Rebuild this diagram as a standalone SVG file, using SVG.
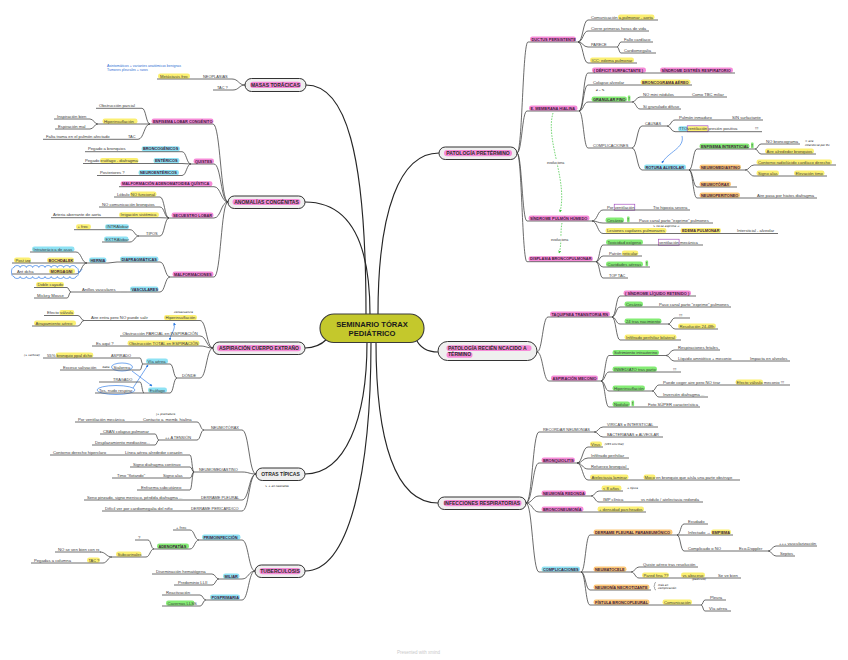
<svg xmlns="http://www.w3.org/2000/svg" width="848" height="660" viewBox="0 0 848 660">
<defs>
<style>
text{font-family:"Liberation Sans",Arial,sans-serif}
.t{font-size:4.2px;fill:#3a3a3a}
.tu{font-size:3.9px;fill:#3a3a3a}
.k{font-size:3.9px;font-weight:bold;fill:#3b1838}
.n{font-size:5px;font-weight:bold;fill:#2a2a2a}
.s{font-family:"DejaVu Sans",sans-serif;font-size:2.8px;font-style:italic;fill:#111}
.bl{font-size:3.5px;fill:#2f6fd4}
.ev{font-size:3.6px;fill:#333}
.u{stroke:#4a4a4a;stroke-width:0.8;fill:none}
.c{stroke:#3a3a3a;stroke-width:0.75;fill:none}
.m{stroke:#262626;stroke-width:1.15;fill:none}
.y{fill:#fbef72}.cy{fill:#8ee2f4}.g{fill:#84ec74}.p{fill:#f68bd8}.o{fill:#fcc778}
.box{fill:#efefef;stroke:#333;stroke-width:1}
.pb{fill:none;stroke:#9a3db8;stroke-width:0.6}
.be{fill:none;stroke:#3b82e8;stroke-width:0.7}
.gd{fill:none;stroke:#3cc43c;stroke-width:0.7;stroke-dasharray:1.6 1.2}
</style>
<marker id="ab" viewBox="0 0 6 6" refX="5" refY="3" markerWidth="4" markerHeight="4" orient="auto-start-reverse"><path d="M0,0 L6,3 L0,6 z" fill="#2e7be0"/></marker>
<marker id="ag" viewBox="0 0 6 6" refX="5" refY="3" markerWidth="4" markerHeight="4" orient="auto"><path d="M0,0 L6,3 L0,6 z" fill="#3cc43c"/></marker>
</defs>
<rect width="848" height="660" fill="#ffffff"/>

<g id="connectors">
<g class="m">
<path d="M306,85 C345,85 366,150 366,314"/>
<path d="M305,202 C348,202 370,240 370,314"/>
<path d="M305,348 C316,348 322,344 327,339"/>
<path d="M305,474 C345,474 367,420 367,342"/>
<path d="M305,571 C350,571 371,470 371,342"/>
<path d="M439,153 C400,153 378,210 378,314"/>
<path d="M438,352 C428,352 420,348 416,339"/>
<path d="M438,503 C395,503 376,440 376,342"/>
</g>
<g class="c">
<path d="M245,85 C238.5,85 238.5,79 232,79"/><path d="M245,85 C239,85 239,90 233,90"/>
<path d="M228,202 C220.5,202 220.5,124 213,124"/><path d="M228,202 C221,202 221,164 214,164"/><path d="M228,202 C221,202 221,186.7 214,186.7"/><path d="M228,202 C221,202 221,218 214,218"/><path d="M228,202 C221,202 221,277 214,277"/>
<path d="M150,124 C146,124 146,108.3 142,108.3"/><path d="M150,124 L141,124"/><path d="M150,124 C144,124 144,139.3 138,139.3"/>
<path d="M98,124 C94,124 94,119 90,119"/><path d="M98,124 C94,124 94,129 90,129"/>
<path d="M191,164 C186.5,164 186.5,151.7 182,151.7"/><path d="M191,164 L182,163.5"/><path d="M191,164 C186.5,164 186.5,175.5 182,175.5"/>
<path d="M169,218 C164.5,218 164.5,197 160,197"/><path d="M169,218 C164.5,218 164.5,207 160,207"/><path d="M169,218 L160,217.7"/><path d="M169,218 C164.5,218 164.5,236 160,236"/>
<path d="M139,236 C134.5,236 134.5,229.7 130,229.7"/><path d="M139,236 C134.5,236 134.5,242 130,242"/>
<path d="M170,277 C165,277 165,262 160,262"/><path d="M170,277 C165,277 165,292 160,292"/>
<path d="M117,262 L108,263"/>
<path d="M87,263 C81.5,263 81.5,252 76,252"/><path d="M87,263 L76,263"/><path d="M87,263 C81.5,263 81.5,274 76,274"/>
<path d="M127,292 L121,292"/>
<path d="M71,292 C69,292 69,287.5 67,287.5"/><path d="M71,292 C69,292 69,298 67,298"/>
<path d="M213,348 C206.5,348 206.5,320.5 200,320.5"/><path d="M213,348 C206.5,348 206.5,336 200,336"/><path d="M213,348 C206.5,348 206.5,346 200,346"/><path d="M213,348 C206.5,348 206.5,378 200,378"/>
<path d="M84,320.5 C81,320.5 81,315.5 78,315.5"/><path d="M84,320.5 C81,320.5 81,326 78,326"/>
<path d="M177,378 C173.5,378 173.5,364 170,364"/><path d="M177,378 C173.5,378 173.5,393 170,393"/>
<path d="M143,364 C141.5,364 141.5,358 140,358"/><path d="M143,364 C141.5,364 141.5,370 140,370"/>
<path d="M144,393 C142,393 142,382 140,382"/><path d="M144,393 L140,393"/>
<path d="M256,474 C249,474 249,430 242,430"/><path d="M256,474 C249,474 249,472 242,472"/><path d="M256,474 C249,474 249,500 242,500"/><path d="M256,474 C249,474 249,511 242,511"/>
<path d="M204,430 C200.5,430 200.5,422 197,422"/><path d="M204,430 C200.5,430 200.5,440 197,440"/>
<path d="M159,440 C157,440 157,434 155,434"/><path d="M159,440 C157,440 157,445 155,445"/>
<path d="M194,472 C192,472 192,455 190,455"/><path d="M194,472 C192,472 192,467 190,467"/><path d="M194,472 C192,472 192,478 190,478"/><path d="M194,472 C192,472 192,490 190,490"/>
<path d="M255,571 C248.5,571 248.5,540 242,540"/><path d="M255,571 C248.5,571 248.5,579 242,579"/><path d="M255,571 C248.5,571 248.5,600 242,600"/>
<path d="M199,540 C194.5,540 194.5,530 190,530"/><path d="M199,540 C194.5,540 194.5,549 190,549"/>
<path d="M154,549 C151,549 151,540 148,540"/><path d="M154,549 C150,549 150,557 146,557"/>
<path d="M112,557 C106,557 106,552 100,552"/><path d="M112,557 C107.5,557 107.5,563 103,563"/>
<path d="M219,579 C215.5,579 215.5,574 212,574"/><path d="M219,579 C215.5,579 215.5,585 212,585"/>
<path d="M206,600 C203,600 203,595 200,595"/><path d="M206,600 C203,600 203,606 200,606"/>
<path d="M517,153 C522.5,153 522.5,42 528,42"/><path d="M517,153 C522,153 522,111 527,111"/><path d="M517,153 C522,153 522,221 527,221"/><path d="M517,153 C522,153 522,261.7 527,261.7"/>
<path d="M578,42 C583,42 583,20 588,20"/><path d="M578,42 C583,42 583,31 588,31"/><path d="M578,42 C583,42 583,47 588,47"/><path d="M578,42 C583,42 583,63 588,63"/>
<path d="M617,47 C619,47 619,42 621,42"/><path d="M617,47 C619,47 619,53 621,53"/>
<path d="M579,111 C583.5,111 583.5,73 588,73"/><path d="M579,111 C583.5,111 583.5,85 588,85"/><path d="M579,111 C583.5,111 583.5,102 588,102"/><path d="M579,111 C583.5,111 583.5,148 588,148"/>
<path d="M632,102 C636,102 636,97 640,97"/><path d="M632,102 C636,102 636,109 640,109"/>
<path d="M632,148 C637,148 637,126 642,126"/><path d="M632,148 C637,148 637,170 642,170"/>
<path d="M667,126 C671,126 671,120 675,120"/><path d="M667,126 C671,126 671,131.7 675,131.7"/>
<path d="M689,170 C693,170 693,149 697,149"/><path d="M689,170 L697,170"/><path d="M689,170 C693,170 693,187 697,187"/><path d="M689,170 C693,170 693,198 697,198"/>
<path d="M755,149 C758,149 758,144 761,144"/><path d="M755,149 C758,149 758,154 761,154"/>
<path d="M745,170 C749.5,170 749.5,165 754,165"/><path d="M745,170 C749.5,170 749.5,176 754,176"/>
<path d="M592,221 C597.5,221 597.5,210 603,210"/><path d="M592,221 C597.5,221 597.5,223 603,223"/><path d="M592,221 C597.5,221 597.5,233.5 603,233.5"/>
<path d="M596,261.7 C599.5,261.7 599.5,245 603,245"/><path d="M596,261.7 C599.5,261.7 599.5,256 603,256"/><path d="M596,261.7 C599.5,261.7 599.5,267 603,267"/><path d="M596,261.7 C599.5,261.7 599.5,278 603,278"/>
<path d="M537,352 C542.5,352 542.5,317 548,317"/><path d="M537,352 C543,352 543,381 549,381"/>
<path d="M612,317 C616,317 616,296 620,296"/><path d="M612,317 C616,317 616,307 620,307"/><path d="M612,317 C616,317 616,324 620,324"/><path d="M612,317 C616,317 616,340 620,340"/>
<path d="M668,324 C671.5,324 671.5,318 675,318"/><path d="M668,324 C671.5,324 671.5,329 675,329"/>
<path d="M601,381 C605,381 605,355.5 609,355.5"/><path d="M601,381 C605,381 605,372 609,372"/><path d="M601,381 C605,381 605,391 609,391"/><path d="M601,381 C605,381 605,407 609,407"/>
<path d="M666,355.5 C670,355.5 670,350 674,350"/><path d="M666,355.5 C670,355.5 670,361 674,361"/>
<path d="M652,391 C655.5,391 655.5,385 659,385"/><path d="M652,391 C655.5,391 655.5,397 659,397"/>
<path d="M526,503 C532.5,503 532.5,432 539,432"/><path d="M526,503 C532.5,503 532.5,463 539,463"/><path d="M526,503 C532.5,503 532.5,496 539,496"/><path d="M526,503 C532.5,503 532.5,512 539,512"/><path d="M526,503 C532.5,503 532.5,572 539,572"/>
<path d="M594,432 C598.5,432 598.5,427 603,427"/><path d="M594,432 C598.5,432 598.5,437 603,437"/>
<path d="M577,463 C582.5,463 582.5,447 588,447"/><path d="M577,463 C582.5,463 582.5,458 588,458"/><path d="M577,463 C582.5,463 582.5,469 588,469"/><path d="M577,463 C582.5,463 582.5,480 588,480"/>
<path d="M591,496 C595,496 595,491 599,491"/><path d="M591,496 C595,496 595,502 599,502"/>
<path d="M581,572 C585.5,572 585.5,535 590,535"/><path d="M581,572 L590,572"/><path d="M581,572 C585.5,572 585.5,590 590,590"/><path d="M581,572 C585.5,572 585.5,605 590,605"/>
<path d="M677,535 C680.5,535 680.5,524 684,524"/><path d="M677,535 L684,535"/><path d="M677,535 C680.5,535 680.5,551 684,551"/>
<path d="M768,551 C772,551 772,546 776,546"/><path d="M768,551 C772,551 772,556 776,556"/>
<path d="M631,572 C635,572 635,567 639,567"/><path d="M631,572 C635,572 635,578 639,578"/>
<path d="M701,605 C703,605 703,600 705,600"/><path d="M701,605 C703,605 703,611 705,611"/>
</g>
<g id="annot-links">
<path class="be" d="M174,323 C176,330 170,334 170,340" marker-start="url(#ab)" marker-end="url(#ab)"/>
<path class="be" d="M132,371 L152,386" marker-end="url(#ab)"/>
<path class="be" d="M133,388 L148,365" marker-end="url(#ab)"/>
<path class="be" d="M682,136 C685,148 668,152 662,163" marker-end="url(#ab)"/>
<path class="gd" d="M553,113 C545,140 568,180 560,212" marker-end="url(#ag)"/>
<path class="gd" d="M562,223 C560,232 562,245 559,253" marker-end="url(#ag)"/>
</g>
</g>

<g id="center"><rect x="320" y="314" width="104" height="28.5" rx="14" fill="#c4c82c" stroke="#3a3a3a" stroke-width="1.1"/><text x="372" y="326.8" text-anchor="middle" font-size="7.6" font-weight="bold" fill="#1a1a1a">SEMINARIO TÓRAX</text><text x="372" y="335.8" text-anchor="middle" font-size="7.6" font-weight="bold" fill="#1a1a1a">PEDIÁTRICO</text></g>

<!-- MASAS -->
<g id="n-masas"><rect class="box" x="245" y="78.5" width="61" height="13" rx="6.5"/><rect class="p" x="250" y="81.7" width="51" height="6.3" rx="3"/><text class="n" x="275.5" y="86.9" text-anchor="middle">MASAS TORÁCICAS</text></g>
<g id="n-notas"><text class="bl" x="107" y="66.5">Asintomáticos + variantes anatómicas benignas</text><text class="bl" x="107" y="70.5">Tumores pleurales + raros</text></g>
<g id="n-neo"><rect class="y" x="158" y="73.6" width="32" height="5.2" rx="2.4"/><text class="t" x="160" y="77.5">Metástasis frec</text><text class="tu" x="203" y="77.5">NEOPLASIAS</text><path class="u" d="M157,79 H232"/></g>
<g id="n-tac1"><text class="tu" x="217" y="88.5">TAC ?</text><path class="u" d="M213,90 H233"/></g>

<!-- ANOMALIAS -->
<g id="n-anom"><rect class="box" x="228" y="196" width="77" height="12.5" rx="6.25"/><rect class="p" x="232.5" y="198.9" width="68" height="6.2" rx="3"/><text class="n" x="266.5" y="204.1" text-anchor="middle">ANOMALÍAS CONGÉNITAS</text></g>
<g id="n-enf"><rect class="p" x="151.5" y="118.6" width="62" height="5.2" rx="2.4"/><text class="k" x="153" y="122.5">ENFISEMA LOBAR CONGÉNITO</text><path class="u" d="M150,124 H213"/></g>
<g id="n-obp"><text class="t" x="99" y="106.8">Obstrucción parcial</text><path class="u" d="M96,108.3 H142"/></g>
<g id="n-hip1"><rect class="y" x="102.5" y="118.6" width="35" height="5.2" rx="2.4"/><text class="t" x="104" y="122.5">Hiperinsuflación</text><path class="u" d="M98,124 H141"/></g>
<g id="n-insp"><text class="t" x="57" y="117.5">Inspiración bien</text><path class="u" d="M54,119 H90"/></g>
<g id="n-esp"><text class="t" x="58" y="127.5">Espiración mal</text><path class="u" d="M55,129 H90"/></g>
<g id="n-falta"><text class="t" x="46" y="137.8">Falta trama en el pulmón afectado</text><text class="tu" x="128" y="137.8">TAC</text><path class="u" d="M43,139.3 H138"/></g>
<g id="n-quistes"><rect class="p" x="193.5" y="158.6" width="20.5" height="5.2" rx="2.4"/><text class="k" x="195" y="162.5">QUISTES</text><path class="u" d="M191,164 H214"/></g>
<g id="n-bronc"><text class="t" x="88" y="150.2">Pegado a bronquios</text><rect class="cy" x="141.5" y="146.3" width="38.5" height="5.2" rx="2.4"/><text class="k" x="143" y="150.2">BRONCOGÉNICOS</text><path class="u" d="M85,151.7 H182"/></g>
<g id="n-enter"><rect class="y" x="100" y="158.1" width="38.5" height="5.2" rx="2.4"/><text class="t" x="85" y="162">Pegado <tspan>esófago - diafragma</tspan></text><rect class="cy" x="153.5" y="158.1" width="26" height="5.2" rx="2.4"/><text class="k" x="155" y="162">ENTÉRICOS</text><path class="u" d="M83,163.5 H182"/></g>
<g id="n-neuroent"><text class="t" x="100" y="174">Posteriores ?</text><rect class="cy" x="138.5" y="170.1" width="40.5" height="5.2" rx="2.4"/><text class="k" x="140" y="174">NEUROENTÉRICOS</text><path class="u" d="M97,175.5 H182"/></g>
<g id="n-maq"><rect class="p" x="120.5" y="181.3" width="92" height="5.2" rx="2.4"/><text class="k" x="122" y="185.2">MALFORMACIÓN ADENOMATOIDEA QUÍSTICA</text><path class="u" d="M119,186.7 H214"/></g>
<g id="n-secu"><rect class="p" x="171.5" y="212.6" width="42" height="5.2" rx="2.4"/><text class="k" x="173" y="216.5">SECUESTRO LOBAR</text><path class="u" d="M169,218 H214"/></g>
<g id="n-lob"><rect class="y" x="130" y="191.6" width="26.5" height="5.2" rx="2.4"/><text class="t" x="117" y="195.5">Lóbulo <tspan>NO funcional</tspan></text><path class="u" d="M114,197 H160"/></g>
<g id="n-nocom"><text class="t" x="102" y="205.5">NO comunicación bronquios</text><path class="u" d="M99,207 H160"/></g>
<g id="n-art"><text class="t" x="53" y="216.2">Arteria aberrante de aorta</text><rect class="y" x="119" y="212.3" width="40" height="5.2" rx="2.4"/><text class="t" x="120.5" y="216.2">Irrigación sistémica</text><path class="u" d="M51,217.7 H160"/></g>
<g id="n-tipos"><text class="tu" x="146" y="234.5">TIPOS</text><path class="u" d="M139,236 H160"/></g>
<g id="n-intra"><rect class="y" x="76" y="224.3" width="15" height="5.2" rx="2.4"/><text class="t" x="77.5" y="228.2">+ frec</text><rect class="cy" x="105" y="224.3" width="24" height="5.2" rx="2.4"/><text class="t" x="106.5" y="228.2">INTRAlobar</text><path class="u" d="M74,229.7 H130"/></g>
<g id="n-extra"><rect class="cy" x="104" y="236.6" width="24.5" height="5.2" rx="2.4"/><text class="t" x="105.5" y="240.5">EXTRAlobar</text><path class="u" d="M102,242 H130"/></g>
<g id="n-malf"><rect class="p" x="172.5" y="271.6" width="41" height="5.2" rx="2.4"/><text class="k" x="174" y="275.5">MALFORMACIONES</text><path class="u" d="M170,277 H214"/></g>
<g id="n-diaf"><rect class="cy" x="120" y="256.6" width="38.5" height="5.2" rx="2.4"/><text class="k" x="121.5" y="260.5">DIAFRAGMÁTICAS</text><path class="u" d="M117,262 H160"/></g>
<g id="n-hernia"><rect class="cy" x="89" y="257.6" width="17.5" height="5.2" rx="2.4"/><text class="k" x="90.5" y="261.5">HERNIA</text><path class="u" d="M87,263 H108"/></g>
<g id="n-intrat"><rect class="cy" x="32" y="246.6" width="42.5" height="5.2" rx="2.4"/><text class="t" x="33.5" y="250.5">Intratorácica de asas</text><path class="u" d="M30,252 H76"/></g>
<g id="n-boch"><rect class="y" x="14" y="257.6" width="17" height="5.2" rx="2.4"/><text class="t" x="15.5" y="261.5">Post izq</text><rect class="y" x="47" y="257.6" width="27" height="5.2" rx="2.4"/><text class="k" x="48.5" y="261.5">BOCHDALEK</text><path class="u" d="M12,263 H76"/></g>
<g id="n-morg"><text class="t" x="17" y="272.5">Ant dcha</text><rect class="y" x="49" y="268.6" width="26" height="5.2" rx="2.4"/><text class="k" x="50.5" y="272.5">MORGAGNI</text><path class="u" d="M12,274 H76"/><path class="be" d="M14,267.5 a3.1,2 0 0 1 6.2,0 a3.1,2 0 0 1 6.2,0 a3.1,2 0 0 1 6.2,0 a3.1,2 0 0 1 6.2,0 a3.1,2 0 0 1 6.2,0 a3.1,2 0 0 1 6.2,0 a3.1,2 0 0 1 6.2,0 a3.1,2 0 0 1 6.2,0 a3.1,2 0 0 1 6.2,0 a3.1,2 0 0 1 6.2,0 a2.5,4.5 0 0 1 0,9 a3.1,2 0 0 1 -6.2,0 a3.1,2 0 0 1 -6.2,0 a3.1,2 0 0 1 -6.2,0 a3.1,2 0 0 1 -6.2,0 a3.1,2 0 0 1 -6.2,0 a3.1,2 0 0 1 -6.2,0 a3.1,2 0 0 1 -6.2,0 a3.1,2 0 0 1 -6.2,0 a3.1,2 0 0 1 -6.2,0 a3.1,2 0 0 1 -6.2,0 a2.5,4.5 0 0 1 0,-9 z"/><path class="be" d="M78,271 l1.3,1.6 l3,-3.8"/></g>
<g id="n-vasc"><rect class="cy" x="130" y="286.6" width="28.5" height="5.2" rx="2.4"/><text class="k" x="131.5" y="290.5">VASCULARES</text><path class="u" d="M127,292 H160"/></g>
<g id="n-anillos"><text class="t" x="82" y="290.5">Anillos vasculares</text><path class="u" d="M71,292 H121"/></g>
<g id="n-doble"><rect class="y" x="36" y="282.1" width="28" height="5.2" rx="2.4"/><text class="t" x="37.5" y="286">Doble cayado</text><path class="u" d="M34,287.5 H67"/></g>
<g id="n-mickey"><text class="t" x="37" y="296.5">Mickey Mouse</text><path class="u" d="M34,298 H67"/></g>

<!-- ASPIRACION -->
<g id="n-asp"><rect class="box" x="213" y="342" width="92" height="12.5" rx="6.25"/><rect class="p" x="217" y="345" width="84" height="6.2" rx="3"/><text class="n" x="259" y="350.1" text-anchor="middle">ASPIRACIÓN CUERPO EXTRAÑO</text></g>
<g id="n-aire"><text class="t" x="91" y="319">Aire entra pero NO puede salir</text><rect class="y" x="164" y="315.1" width="33" height="5.2" rx="2.4"/><text class="t" x="165.5" y="319">Hiperinsuflación</text><text class="s" x="174" y="313">consecuencia</text><path class="u" d="M84,320.5 H200"/></g>
<g id="n-efv"><rect class="y" x="59.3" y="310.1" width="15" height="5.2" rx="2.4"/><text class="t" x="47" y="314">Efecto <tspan>válvula</tspan></text><path class="u" d="M44,315.5 H78"/></g>
<g id="n-atrap"><rect class="y" x="34" y="320.6" width="42" height="5.2" rx="2.4"/><text class="t" x="35.5" y="324.5">Atrapamiento aéreo</text><path class="u" d="M32,326 H78"/></g>
<g id="n-obpar"><text class="t" x="122.5" y="334.5">Obstrucción PARCIAL en INSPIRACIÓN</text><path class="u" d="M120,336 H200"/></g>
<g id="n-obtot"><text class="t" x="96" y="344.5">Es aquí ?</text><rect class="y" x="127.5" y="340.6" width="72" height="5.2" rx="2.4"/><text class="t" x="129" y="344.5">Obstrucción TOTAL en ESPIRACIÓN</text><path class="u" d="M92,346 H200"/></g>
<g id="n-donde"><text class="tu" x="182" y="376.5">DÓNDE</text><path class="u" d="M177,378 H200"/></g>
<g id="n-via"><rect class="cy" x="146" y="358.6" width="22" height="5.2" rx="2.4"/><text class="t" x="147.5" y="362.5">Vía aérea</text><path class="u" d="M143,364 H170"/></g>
<g id="n-esof"><rect class="cy" x="148" y="387.6" width="19" height="5.2" rx="2.4"/><text class="t" x="149.5" y="391.5">Esófago</text><path class="u" d="M144,393 H170"/></g>
<g id="n-aspirado"><text class="s" x="24" y="356.3">(+ vertical)</text><rect class="y" x="55.8" y="352.6" width="37.5" height="5.2" rx="2.4"/><text class="t" x="47" y="356.5">55% <tspan>bronquio ppal dcho</tspan></text><text class="tu" x="111" y="356.5">ASPIRADO</text><path class="u" d="M43,358 H140"/></g>
<g id="n-exceso"><text class="t" x="63" y="368.5">Exceso salivación</text><text class="s" x="102.5" y="368.3">baba</text><text class="t" x="113.5" y="368.5">Sialorrea</text><ellipse class="be" cx="122" cy="367" rx="10.5" ry="4"/><path class="u" d="M60,370 H140"/></g>
<g id="n-tragado"><text class="tu" x="113" y="380.5">TRAGADO</text><path class="u" d="M99,382 H140"/></g>
<g id="n-tos"><text class="t" x="99" y="391.5">Tos, nudo respirar</text><ellipse class="be" cx="116" cy="390" rx="19" ry="4.5"/><path class="u" d="M95,393 H140"/></g>

<!-- OTRAS -->
<g id="n-otras"><rect class="box" x="256" y="468" width="49" height="12.5" rx="6.25"/><text class="n" x="280.5" y="476.1" text-anchor="middle">OTRAS TÍPICAS</text><text class="s" x="265" y="487">↳ + en neonatos</text></g>
<g id="n-neumot"><text class="tu" x="211" y="428.5">NEUMOTÓRAX</text><path class="u" d="M204,430 H242"/></g>
<g id="n-contacto"><text class="s" x="156" y="414.5">[+ prematuro</text><text class="t" x="78" y="420.5">Por ventilación mecánica</text><text class="t" x="143" y="420.5">Contacto a. memb. hialina</text><path class="u" d="M75,422 H197"/></g>
<g id="n-tension"><text class="tu" x="165" y="438.5">++ A TENSIÓN</text><path class="u" d="M159,440 H197"/></g>
<g id="n-cban"><text class="t" x="103" y="432.5">CBAN colapso pulmonar</text><path class="u" d="M100,434 H155"/></g>
<g id="n-despl"><text class="t" x="95" y="443.5">Desplazamiento mediastino...</text><path class="u" d="M92,445 H155"/></g>
<g id="n-neumomed"><text class="tu" x="199" y="470.5">NEUMOMEDIASTINO</text><path class="u" d="M194,472 H242"/></g>
<g id="n-linea"><text class="t" x="53" y="453.5">Contorno derecho hiperclaro</text><text class="t" x="125" y="453.5">Línea aérea alrededor corazón</text><path class="u" d="M50,455 H190"/></g>
<g id="n-sdiaf"><text class="t" x="133" y="465.5">Signo diafragma continuo</text><path class="u" d="M130,467 H190"/></g>
<g id="n-timo"><text class="t" x="117" y="476.5">Timo &quot;flotando&quot;</text><text class="t" x="163" y="476.5">Signo alas</text><path class="u" d="M112,478 H190"/></g>
<g id="n-enfsc"><text class="t" x="141" y="488.5">Enfisema subcutáneo</text><path class="u" d="M137,490 H190"/></g>
<g id="n-derpl"><text class="t" x="87" y="498.5">Seno pinzado, signo menisco, pérdida diafragma ...</text><text class="tu" x="201" y="498.5">DERRAME PLEURAL</text><path class="u" d="M84,500 H242"/></g>
<g id="n-derper"><text class="t" x="105" y="509.5">Difícil ver por cardiomegalia del niño</text><text class="tu" x="191" y="509.5">DERRAME PERICÁRDICO</text><path class="u" d="M102,511 H242"/></g>

<!-- TUBERCULOSIS -->
<g id="n-tbc"><rect class="box" x="255" y="565" width="50" height="12.5" rx="6.25"/><rect class="p" x="259.5" y="568" width="41" height="6.2" rx="3"/><text class="n" x="280" y="573.1" text-anchor="middle">TUBERCULOSIS</text></g>
<g id="n-primo"><rect class="cy" x="202" y="534.6" width="38.5" height="5.2" rx="2.4"/><text class="k" x="203.5" y="538.5">PRIMOINFECCIÓN</text><path class="u" d="M199,540 H242"/></g>
<g id="n-frec2"><text class="t" x="176" y="528.5">+ frec</text><path class="u" d="M173,530 H190"/></g>
<g id="n-adeno"><rect class="g" x="157" y="543.6" width="32" height="5.2" rx="2.4"/><text class="k" x="158.5" y="547.5">ADENOPATÍAS</text><path class="u" d="M154,549 H190"/></g>
<g id="n-q"><text class="t" x="138" y="538.5">?</text><path class="u" d="M135,540 H148"/></g>
<g id="n-subc"><rect class="y" x="116" y="551.6" width="25.5" height="5.2" rx="2.4"/><text class="t" x="117.5" y="555.5">Subcarinales</text><path class="u" d="M112,557 H146"/></g>
<g id="n-nose"><text class="t" x="58" y="550.5">NO se ven bien con rx</text><path class="u" d="M55,552 H101"/></g>
<g id="n-peg"><text class="t" x="34" y="561.5">Pegadas a columna</text><rect class="y" x="87" y="557.6" width="13" height="5.2" rx="2.4"/><text class="tu" x="88.5" y="561.5">TAC ?</text><path class="u" d="M31,563 H103"/></g>
<g id="n-miliar"><rect class="cy" x="223" y="573.6" width="16.5" height="5.2" rx="2.4"/><text class="k" x="224.5" y="577.5">MILIAR</text><path class="u" d="M219,579 H242"/></g>
<g id="n-disem"><text class="t" x="156" y="572.5">Diseminación hematógena</text><path class="u" d="M152,574 H212"/></g>
<g id="n-pred"><text class="t" x="178" y="583.5">Predominio LLII</text><path class="u" d="M174,585 H212"/></g>
<g id="n-pospri"><rect class="cy" x="210" y="594.6" width="30" height="5.2" rx="2.4"/><text class="k" x="211.5" y="598.5">POSPRIMARIA</text><path class="u" d="M206,600 H242"/></g>
<g id="n-react"><text class="t" x="166" y="593.5">Reactivación</text><path class="u" d="M162,595 H200"/></g>
<g id="n-cav"><rect class="g" x="166" y="600.6" width="28.5" height="5.2" rx="2.4"/><text class="t" x="167.5" y="604.5">Cavernas LLSS</text><path class="u" d="M162,606 H200"/></g>

<!-- PRETERMINO -->
<g id="n-pret"><rect class="box" x="439" y="147" width="78" height="12.5" rx="6.25"/><rect class="p" x="444" y="150" width="68" height="6.2" rx="3"/><text class="n" x="478" y="155.1" text-anchor="middle">PATOLOGÍA PRETÉRMINO</text></g>
<g id="n-ductus"><rect class="p" x="530" y="36.6" width="46" height="5.2" rx="2.4"/><text class="k" x="531.5" y="40.5">DUCTUS PERSISTENTE</text><path class="u" d="M528,42 H578"/></g>
<g id="n-comu"><rect class="y" x="618" y="14.6" width="36.5" height="5.2" rx="2.4"/><text class="t" x="591" y="18.5">Comunicación <tspan>a.pulmonar - aorta</tspan></text><path class="u" d="M588,20 H658"/></g>
<g id="n-cierre"><text class="t" x="591" y="29.5">Cierre primeras horas de vida</text><path class="u" d="M588,31 H649"/></g>
<g id="n-parece"><text class="tu" x="591" y="45.5">PARECE</text><path class="u" d="M588,47 H617"/></g>
<g id="n-fallo"><text class="t" x="624" y="40.5">Fallo cardíaco</text><path class="u" d="M621,42 H653"/></g>
<g id="n-cardio"><text class="t" x="624" y="51.5">Cardiomegalia</text><path class="u" d="M621,53 H656"/></g>
<g id="n-icc"><rect class="y" x="590" y="57.6" width="44" height="5.2" rx="2.4"/><text class="t" x="591.5" y="61.5">ICC: edema pulmonar</text><path class="u" d="M588,63 H637"/></g>
<g id="n-memb"><rect class="p" x="529" y="105.6" width="48.5" height="5.2" rx="2.4"/><text class="k" x="530.5" y="109.5">E. MEMBRANA HIALINA</text><path class="u" d="M527,111 H579"/></g>
<g id="n-defic"><rect class="p" x="592" y="67.6" width="54" height="5.2" rx="2.4"/><text class="k" x="593.5" y="71.5">( DÉFICIT SURFACTANTE )</text><rect class="p" x="660" y="67.6" width="73" height="5.2" rx="2.4"/><text class="k" x="661.5" y="71.5">SÍNDROME DISTRÉS RESPIRATORIO</text><path class="u" d="M588,73 H735"/></g>
<g id="n-colapso"><text class="t" x="593" y="83.5">Colapso alveolar</text><rect class="y" x="640.5" y="79.6" width="50" height="5.2" rx="2.4"/><text class="k" x="642" y="83.5">BRONCOGRAMA AÉREO</text><path class="u" d="M588,85 H692"/><text class="s" x="596" y="91">ø ~ %</text></g>
<g id="n-gran"><rect class="g" x="591.5" y="96.6" width="35.5" height="5.2" rx="2.4"/><text class="k" x="593" y="100.5">GRANULAR FINO</text><rect class="g" x="627.8" y="95.6" width="2.6" height="5.6" rx="0.8"/><text class="k" x="628.4" y="100.3">!</text><path class="u" d="M588,102 H632"/></g>
<g id="n-nomini"><text class="t" x="643" y="95.5">NO mini nódulos</text><text class="t" x="692" y="95.5">Como TBC miliar</text><path class="u" d="M640,97 H727"/></g>
<g id="n-sigr"><text class="t" x="643" y="107.5">Sí granulado difuso</text><path class="u" d="M640,109 H681"/></g>
<g id="n-compl1"><text class="tu" x="593" y="146.5">COMPLICACIONES</text><path class="u" d="M588,148 H632"/></g>
<g id="n-causas"><text class="tu" x="645" y="124.5">CAUSAS</text><path class="u" d="M642,126 H667"/></g>
<g id="n-pulm"><text class="t" x="679" y="118.5">Pulmón inmaduro</text><text class="t" x="732" y="118.5">SIN surfactante</text><path class="u" d="M675,120 H763"/></g>
<g id="n-tto"><rect class="cy" x="678.3" y="126.3" width="9.6" height="5.2" rx="2"/><rect class="y" x="687.6" y="126.3" width="20" height="5.2" rx="1"/><rect class="pb" x="687.2" y="125.8" width="20.8" height="6"/><text class="t" x="679" y="130.2">TTO<tspan>ventilación</tspan> presión positiva</text><text class="t" x="755" y="130.2">!!!</text><path class="u" d="M675,131.7 H762"/></g>
<g id="n-rotura"><rect class="cy" x="644" y="164.6" width="42" height="5.2" rx="2.4"/><text class="k" x="645.5" y="168.5">ROTURA ALVEOLAR</text><path class="u" d="M642,170 H689"/></g>
<g id="n-enfint"><rect class="g" x="699.5" y="143.6" width="50" height="5.2" rx="2.4"/><text class="k" x="701" y="147.5">ENFISEMA INTERSTICIAL</text><rect class="g" x="751" y="142.6" width="2.6" height="5.6" rx="0.8"/><text class="k" x="751.6" y="147.3">!</text><path class="u" d="M697,149 H755"/></g>
<g id="n-nobr"><text class="t" x="766" y="142.5">NO broncograma</text><path class="u" d="M761,144 H800"/><text class="s" x="805" y="141.5">= aire</text><text class="s" x="805" y="145.5">intersticial por Rx</text></g>
<g id="n-airealr"><rect class="y" x="765" y="148.6" width="49" height="5.2" rx="2.4"/><text class="t" x="766.5" y="152.5">Aire alrededor bronquios</text><path class="u" d="M761,154 H816"/></g>
<g id="n-nmed2"><rect class="o" x="699.5" y="164.6" width="41.5" height="5.2" rx="2.4"/><text class="k" x="701" y="168.5">NEUMOMEDIASTINO</text><path class="u" d="M697,170 H745"/></g>
<g id="n-contr"><rect class="y" x="756.5" y="159.6" width="75.5" height="5.2" rx="2.4"/><text class="t" x="758" y="163.5">Contorno radiolúcido cardíaco derecho</text><path class="u" d="M754,165 H836"/></g>
<g id="n-salas"><rect class="y" x="756.5" y="170.6" width="22.5" height="5.2" rx="2.4"/><text class="t" x="758" y="174.5">Signo alas</text><rect class="y" x="794" y="170.6" width="30.5" height="5.2" rx="2.4"/><text class="t" x="795.5" y="174.5">Elevación timo</text><path class="u" d="M754,176 H827"/></g>
<g id="n-nmtx2"><rect class="o" x="699.5" y="181.6" width="31.5" height="5.2" rx="2.4"/><text class="k" x="701" y="185.5">NEUMOTÓRAX</text><path class="u" d="M697,187 H737"/></g>
<g id="n-nmper"><rect class="o" x="699.5" y="192.6" width="40.5" height="5.2" rx="2.4"/><text class="k" x="701" y="196.5">NEUMOPERITONEO</text><text class="t" x="757" y="196.5">Aire pasa por hiatos diafragma</text><path class="u" d="M697,198 H817"/></g>
<g id="n-sph"><rect class="p" x="528.5" y="215.6" width="61" height="5.2" rx="2.4"/><text class="k" x="530" y="219.5">SÍNDROME PULMÓN HÚMEDO</text><path class="u" d="M527,221 H592"/></g>
<g id="n-porv"><rect class="pb" x="614.2" y="204.2" width="20.6" height="6"/><text class="t" x="607" y="208.5">Por <tspan>ventilación</tspan></text><text class="t" x="653" y="208.5">Tto hipoxia severa</text><path class="u" d="M603,210 H690"/></g>
<g id="n-ces1"><rect class="g" x="605.5" y="217.6" width="18.5" height="5.2" rx="2.4"/><text class="t" x="607" y="221.5">Cesárea</text><rect class="g" x="627" y="216.6" width="2.6" height="5.6" rx="0.8"/><text class="k" x="627.6" y="221.3">!</text><text class="t" x="639" y="221.5">Paso canal parto &quot;exprime&quot; pulmones</text><path class="u" d="M603,223 H713"/><text class="s" x="653" y="226.6">↳ no se exprime →</text></g>
<g id="n-lesi"><rect class="y" x="605.5" y="228.1" width="61" height="5.2" rx="2.4"/><text class="t" x="607" y="232">Lesiones capilares pulmonares</text><rect class="y" x="680.5" y="228.1" width="40.5" height="5.2" rx="2.4"/><text class="k" x="682" y="232">EDEMA PULMONAR</text><text class="t" x="737" y="232">Intersticial - alveolar</text><path class="u" d="M603,233.5 H778"/></g>
<g id="n-displ"><rect class="p" x="528.5" y="256.3" width="64.5" height="5.2" rx="2.4"/><text class="k" x="530" y="260.2">DISPLASIA BRONCOPULMONAR</text><path class="u" d="M527,261.7 H596"/></g>
<g id="n-toxi"><rect class="g" x="606" y="239.6" width="37" height="5.2" rx="2.4"/><text class="t" x="607.5" y="243.5">Toxicidad oxígeno</text><rect class="pb" x="658.3" y="239.2" width="20.8" height="6"/><text class="t" x="659" y="243.5">ventilación mecánica</text><path class="u" d="M603,245 H703"/></g>
<g id="n-patron"><rect class="y" x="621.8" y="250.6" width="16.5" height="5.2" rx="2.4"/><text class="t" x="609" y="254.5">Patrón <tspan>reticular</tspan></text><path class="u" d="M603,256 H642"/></g>
<g id="n-cavid"><rect class="g" x="606" y="261.6" width="37" height="5.2" rx="2.4"/><text class="t" x="607.5" y="265.5">Cavidades aéreas</text><rect class="g" x="645.5" y="260.6" width="2.6" height="5.6" rx="0.8"/><text class="k" x="646.1" y="265.3">!</text><path class="u" d="M603,267 H650"/></g>
<g id="n-toptac"><text class="tu" x="609" y="276.5">TOP TAC</text><path class="u" d="M603,278 H628"/></g>
<g id="n-evol"><rect x="546" y="159.5" width="20" height="5" fill="#fff"/><text class="ev" x="547" y="163.5">evoluciona</text><rect x="550" y="236.5" width="20" height="5" fill="#fff"/><text class="ev" x="551" y="240.5">evoluciona</text></g>

<!-- RECIEN NACIDO -->
<g id="n-rn"><rect class="box" x="438" y="341.5" width="99" height="19" rx="9.5"/><rect class="p" x="446.5" y="345.3" width="85" height="5.8" rx="2.8"/><rect class="p" x="446.5" y="351.9" width="26" height="5.8" rx="2.8"/><text class="n" x="448" y="349.8">PATOLOGÍA RECIÉN NCACIDO A</text><text class="n" x="448" y="356.4">TÉRMINO</text></g>
<g id="n-taqui"><rect class="p" x="550" y="311.6" width="60" height="5.2" rx="2.4"/><text class="k" x="551.5" y="315.5">TAQUIPNEA TRANSITORIA RN</text><path class="u" d="M548,317 H612"/></g>
<g id="n-liqret"><rect class="p" x="623.5" y="290.6" width="67.5" height="5.2" rx="2.4"/><text class="k" x="625" y="294.5">( SÍNDROME LÍQUIDO RETENIDO )</text><path class="u" d="M620,296 H696"/></g>
<g id="n-ces2"><rect class="g" x="624.5" y="301.6" width="18.5" height="5.2" rx="2.4"/><text class="t" x="626" y="305.5">Cesárea</text><text class="t" x="659" y="305.5">Paso canal parto &quot;exprime&quot; pulmones</text><path class="u" d="M620,307 H731"/></g>
<g id="n-24"><rect class="g" x="624.5" y="318.6" width="37" height="5.2" rx="2.4"/><text class="t" x="626" y="322.5">24 tras nacimiento</text><path class="u" d="M620,324 H668"/></g>
<g id="n-excl"><text class="t" x="679" y="316.5">!!!</text><path class="u" d="M675,318 H690"/></g>
<g id="n-resol"><rect class="y" x="678" y="323.6" width="38" height="5.2" rx="2.4"/><text class="t" x="679.5" y="327.5">Resolución 24-48h</text><path class="u" d="M675,329 H718"/></g>
<g id="n-infil"><rect class="y" x="624.5" y="334.6" width="52" height="5.2" rx="2.4"/><text class="t" x="626" y="338.5">Infiltrado perihiliar bilateral</text><path class="u" d="M620,340 H681"/></g>
<g id="n-mecon"><rect class="p" x="551" y="375.6" width="47" height="5.2" rx="2.4"/><text class="k" x="552.5" y="379.5">ASPIRACIÓN MECONIO</text><path class="u" d="M549,381 H601"/></g>
<g id="n-sufr"><rect class="g" x="612.5" y="350.1" width="46.5" height="5.2" rx="2.4"/><text class="t" x="614" y="354">Sufrimiento intrauterino</text><path class="u" d="M609,355.5 H666"/></g>
<g id="n-resp"><text class="t" x="678" y="348.5">Respiraciones fetales</text><path class="u" d="M674,350 H720"/></g>
<g id="n-liqam"><text class="t" x="678" y="359.5">Líquido amniótico + meconio</text><text class="t" x="750" y="359.5">Impacta en alveolos</text><path class="u" d="M674,361 H790"/></g>
<g id="n-inmed"><rect class="g" x="612.5" y="366.6" width="44.5" height="5.2" rx="2.4"/><text class="t" x="614" y="370.5">INMEDIATO tras parto</text><text class="t" x="673" y="370.5">!!!</text><path class="u" d="M609,372 H681"/></g>
<g id="n-hip2"><rect class="g" x="612.5" y="385.6" width="32.5" height="5.2" rx="2.4"/><text class="t" x="614" y="389.5">Hiperinsuflación</text><path class="u" d="M609,391 H652"/></g>
<g id="n-puede"><text class="t" x="663" y="383.5">Puede coger aire pero NO tirar</text><rect class="y" x="735.5" y="379.6" width="27.5" height="5.2" rx="2.4"/><text class="t" x="736.5" y="383.5">Efecto válvula<tspan> meconio !!!</tspan></text><path class="u" d="M659,385 H790"/></g>
<g id="n-inver"><text class="t" x="663" y="395.5">Inversión diafragma ...</text><path class="u" d="M659,397 H708"/></g>
<g id="n-nodul"><rect class="g" x="612.5" y="401.6" width="17.5" height="5.2" rx="2.4"/><text class="t" x="614" y="405.5">Nodular</text><rect class="g" x="631.5" y="400.6" width="2.6" height="5.6" rx="0.8"/><text class="k" x="632.1" y="405.3">!</text><text class="t" x="648" y="405.5">Foto SÚPER característica</text><path class="u" d="M609,407 H700"/></g>

<!-- INFECCIONES -->
<g id="n-infec"><rect class="box" x="438" y="497" width="88" height="12.5" rx="6.25"/><rect class="p" x="443.5" y="500" width="78" height="6.2" rx="3"/><text class="n" x="482" y="505.1" text-anchor="middle">INFECCIONES RESPIRATORIAS</text></g>
<g id="n-record"><text class="tu" x="543" y="430.5">RECORDAR NEUMONÍAS</text><path class="u" d="M539,432 H594"/></g>
<g id="n-viric"><text class="tu" x="607" y="425.5">VÍRICAS = INTERSTICIAL</text><path class="u" d="M603,427 H658"/></g>
<g id="n-bact"><text class="tu" x="607" y="435.5">BACTERIANAS = ALVEOLAR</text><path class="u" d="M603,437 H663"/></g>
<g id="n-bronq"><rect class="p" x="541.5" y="457.6" width="33.5" height="5.2" rx="2.4"/><text class="k" x="543" y="461.5">BRONQUIOLITIS</text><path class="u" d="M539,463 H577"/></g>
<g id="n-virus"><rect class="y" x="590" y="441.6" width="12" height="5.2" rx="2.4"/><text class="t" x="591" y="445.5">Virus</text><text class="s" x="604.5" y="445.3">(VRS sincitial)</text><path class="u" d="M588,447 H603"/></g>
<g id="n-infper"><text class="t" x="591" y="456.5">Infiltrado perihiliar</text><path class="u" d="M588,458 H629"/></g>
<g id="n-refu"><text class="t" x="591" y="467.5">Refuerzo bronquial</text><path class="u" d="M588,469 H629"/></g>
<g id="n-atel"><rect class="y" x="590" y="474.6" width="38.5" height="5.2" rx="2.4"/><text class="t" x="591.5" y="478.5">Atelectasia laminar</text><rect class="y" x="643.5" y="474.6" width="12" height="5.2" rx="2.4"/><text class="t" x="644.5" y="478.5">Moco<tspan> en bronquio que aísla una parte obstruye</tspan></text><path class="u" d="M588,480 H740"/></g>
<g id="n-redon"><rect class="p" x="541.5" y="490.6" width="44.5" height="5.2" rx="2.4"/><text class="k" x="543" y="494.5">NEUMONÍA REDONDA</text><path class="u" d="M539,496 H591"/></g>
<g id="n-8a"><rect class="y" x="601.5" y="485.6" width="20" height="5.2" rx="2.4"/><text class="t" x="603" y="489.5">&lt; 8 años</text><text class="s" x="627" y="489.3">+ típica</text><path class="u" d="M599,491 H623"/></g>
<g id="n-imp"><text class="t" x="603" y="500.5">IMP clínica</text><text class="t" x="641" y="500.5">vs nódulo / atelectasia redonda</text><path class="u" d="M599,502 H703"/></g>
<g id="n-bneu"><rect class="p" x="541.5" y="506.6" width="42" height="5.2" rx="2.4"/><text class="k" x="543" y="510.5">BRONCONEUMONÍA</text><rect class="y" x="597.5" y="506.6" width="46.5" height="5.2" rx="2.4"/><text class="t" x="599" y="510.5">+ densidad parcheados</text><path class="u" d="M539,512 H646"/></g>
<g id="n-compl2"><rect class="cy" x="541.5" y="566.6" width="38.5" height="5.2" rx="2.4"/><text class="k" x="543" y="570.5">COMPLICACIONES</text><path class="u" d="M539,572 H581"/></g>
<g id="n-dpp"><rect class="o" x="593.5" y="529.6" width="79" height="5.2" rx="2.4"/><text class="k" x="595" y="533.5">DERRAME PLEURAL PARANEUMÓNICO</text><path class="u" d="M590,535 H677"/></g>
<g id="n-exud"><text class="t" x="688" y="522.5">Exudado</text><path class="u" d="M684,524 H708"/></g>
<g id="n-infect"><text class="t" x="688" y="533.5">Infectado → </text><rect class="y" x="711" y="529.6" width="20" height="5.2" rx="2.4"/><text class="k" x="712" y="533.5">EMPIEMA</text><path class="u" d="M684,535 H733"/></g>
<g id="n-compo"><text class="t" x="688" y="549.5">Complicado o NO</text><text class="t" x="739" y="549.5">Eco-Doppler</text><path class="u" d="M684,551 H768"/></g>
<g id="n-vascu"><text class="t" x="779" y="544.5">+++ vascularización</text><path class="u" d="M776,546 H817"/></g>
<g id="n-septos"><text class="t" x="780" y="554.5">Septos</text><path class="u" d="M776,556 H795"/></g>
<g id="n-neumat"><rect class="o" x="593.5" y="566.6" width="33" height="5.2" rx="2.4"/><text class="k" x="595" y="570.5">NEUMATOCELE</text><path class="u" d="M590,572 H631"/></g>
<g id="n-quiste"><text class="t" x="643" y="565.5">Quiste aéreo tras resolución</text><path class="u" d="M639,567 H698"/></g>
<g id="n-pared"><rect class="y" x="642" y="572.6" width="27" height="5.2" rx="2.4"/><text class="t" x="643.5" y="576.5">Pared fina ??</text><rect class="y" x="681" y="572.6" width="24" height="5.2" rx="2.4"/><text class="t" x="682.5" y="576.5">vs absceso</text><text class="s" x="692" y="580.3">(pedículo)</text><text class="t" x="718" y="576.5">Se ve bien</text><path class="u" d="M639,578 H741"/></g>
<g id="n-necro"><rect class="o" x="593.5" y="584.6" width="56" height="5.2" rx="2.4"/><text class="k" x="595" y="588.5">NEUMONÍA NECROTIZANTE</text><path class="u" d="M590,590 H651"/><path d="M656,582.5 q-1.4,0 -1.4,1.4 v1.6 l-0.9,0.7 l0.9,0.7 v1.6 q0,1.4 1.4,1.4" fill="none" stroke="#111" stroke-width="0.35"/><text class="s" x="658" y="585.5">más en</text><text class="s" x="658" y="589">complicación</text></g>
<g id="n-fist"><rect class="o" x="593.5" y="599.6" width="56" height="5.2" rx="2.4"/><text class="k" x="595" y="603.5">FÍSTULA BRONCOPLEURAL</text><rect class="y" x="662.5" y="599.6" width="29.5" height="5.2" rx="2.4"/><text class="t" x="664" y="603.5">Comunicación</text><path class="u" d="M590,605 H701"/></g>
<g id="n-pleura"><text class="t" x="710" y="598.5">Pleura</text><path class="u" d="M705,600 H726"/></g>
<g id="n-viaa"><text class="t" x="709" y="609.5">Vía aérea</text><path class="u" d="M705,611 H731"/></g>

<text x="397" y="654" font-size="4.5" fill="#c9c9c9">Presented with xmind</text>
</svg>
